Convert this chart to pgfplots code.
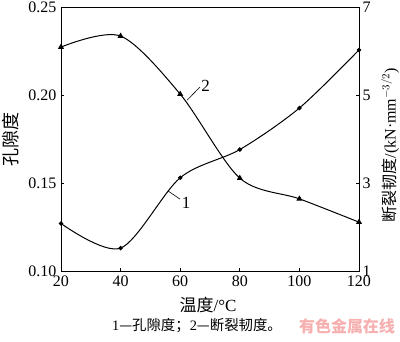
\documentclass[border=0pt]{standalone}
\usepackage{fontspec}
\setmainfont{Liberation Serif}
\newfontfamily\cjk{Noto Sans CJK SC}
\usepackage{pgfplots}
\pgfplotsset{compat=1.18}
\begin{document}
\begin{tikzpicture}[x=1pt,y=1pt]
\useasboundingbox (0,0) rectangle (400,342);
\begin{axis}[
  at={(61pt,71pt)}, anchor=south west,
  scale only axis, width=298pt, height=264pt,
  xmin=20, xmax=120, ymin=0.10, ymax=0.25,
  xtick={20,40,...,120}, ytick={0.10,0.15,0.20,0.25},
  xtick pos=bottom, ytick pos=left,
  tick align=inside, major tick length=3pt,
  tick style={black, line width=0.6pt},
  axis line style={line width=0.7pt},
  ticklabel style={font=\fontsize{16}{16}\selectfont},
  xticklabel style={yshift=-1pt},
  yticklabel style={xshift=-1pt},
  /pgf/number format/assume math mode=true,
  yticklabel style={/pgf/number format/fixed, /pgf/number format/fixed zerofill, /pgf/number format/precision=2},
  clip=false,
]
\addplot[black, line width=1pt, smooth, mark=*, mark size=1.7pt] coordinates {
  (20,0.127) (40,0.113) (60,0.153) (80,0.169) (100,0.1926) (120,0.2256)
};
\draw[black, line width=0.6pt] (axis cs:55.9,0.1455) -- (axis cs:59.9,0.1409);
\node[font=\fontsize{17}{17}\selectfont, anchor=center] at (axis cs:62.0,0.1386) {1};
\draw[black, line width=0.6pt] (axis cs:62.3,0.197) -- (axis cs:66.6,0.2045);
\node[font=\fontsize{17}{17}\selectfont, anchor=center] at (axis cs:68.5,0.205) {2};
\end{axis}
\begin{axis}[
  at={(61pt,71pt)}, anchor=south west,
  scale only axis, width=298pt, height=264pt,
  xmin=20, xmax=120, ymin=1, ymax=7,
  axis x line=none, axis y line*=right,
  ytick={1,3,5,7},
  tick align=inside, major tick length=3pt,
  tick style={black, line width=0.6pt},
  axis line style={line width=0.7pt},
  ticklabel style={font=\fontsize{16}{16}\selectfont},
  /pgf/number format/assume math mode=true,
  clip=false,
]
\addplot[black, line width=1pt, smooth, mark=triangle*, mark size=2.5pt] coordinates {
  (20,6.09) (40,6.34) (60,5.02) (80,3.11) (100,2.64) (120,2.11)
};
\end{axis}
\node[rotate=90, font=\cjk\fontsize{18}{18}\selectfont] at (11,202) {孔隙度};
\node[rotate=90, font=\fontsize{16}{16}\selectfont] at (390,197) {{\cjk 断裂韧度}/(kN·mm$^{-3/2}$)};
\node[font=\fontsize{17}{17}\selectfont] at (208,37) {{\cjk 温度}/°C};
\node[font=\fontsize{14.4}{14.4}\selectfont] at (197,16) {1{\cjk —孔隙度；}2{\cjk —断裂韧度。}};
\node[font=\cjk\bfseries\fontsize{16}{16}\selectfont, text={rgb,255:red,246;green,176;blue,176}] at (347,16) {有色金属在线};
\end{tikzpicture}
\end{document}
